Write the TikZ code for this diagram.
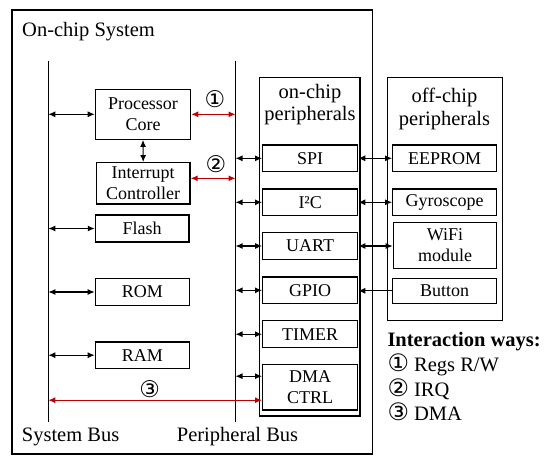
\documentclass[tikz,border=0pt]{standalone}
\usepackage{fontspec}
\setmainfont{Liberation Serif}
\newfontfamily\circfont{DejaVu Sans}
\usetikzlibrary{arrows.meta}
\definecolor{ioRed}{RGB}{192,0,0}
\begin{document}
\begin{tikzpicture}[x=1pt,y=-1pt,
	blk/.style={draw,line width=1.2pt,inner sep=0pt,align=center,font=\fontsize{18}{21}\selectfont},
	frame/.style={draw,line width=1.4pt,inner sep=0pt},
	lbl/.style={inner sep=0pt,align=center,font=\fontsize{20.5}{22.7}\selectfont},
	num/.style={inner sep=0pt,font=\circfont\fontsize{23}{23}\selectfont},
	bus/.style={line width=1.5pt},
	link/.style={{Latex[length=7pt,width=6pt]}-{Latex[length=7pt,width=6pt]},line width=1.1pt},
	way/.style={link,color=ioRed}]
	\useasboundingbox (0,0) rectangle (550,464);
	\node[frame,minimum width=360.7pt,minimum height=444pt] (soc) at (192.35,232) {};
	\node[lbl,anchor=base west] (socl) at (22,36) {On-chip System};
	\node[frame,minimum width=100.7pt,minimum height=338.7pt] (onp) at (309.65,246.65) {};
	\node[lbl] (onpl) at (310,104.7) {on-chip\\peripherals};
	\node[frame,minimum width=114.6pt,minimum height=243.4pt] (offp) at (445,199) {};
	\node[lbl] (offpl) at (444.5,109) {off-chip\\peripherals};
	\coordinate (sb top) at (48.3,60.7);
	\coordinate (sb bot) at (48.3,422.3);
	\coordinate (pb top) at (235.5,60.7);
	\coordinate (pb bot) at (235.5,422.3);
	\draw[bus] (sb top) -- (sb bot);
	\draw[bus] (pb top) -- (pb bot);
	\node[lbl,anchor=base west] (sbl) at (21.7,441.7) {System Bus};
	\node[lbl,anchor=base west] (pbl) at (176.7,441.7) {Peripheral Bus};
	\node[blk,minimum width=95.4pt,minimum height=50pt] (core) at (143,114.3) {Processor\\Core};
	\node[blk,minimum width=93.7pt,minimum height=41.3pt] (intc) at (143.2,183.3) {Interrupt\\Controller};
	\node[blk,minimum width=93.7pt,minimum height=27pt] (flash) at (142.2,228.5) {Flash};
	\node[blk,minimum width=94pt,minimum height=26.6pt] (rom) at (142.3,292) {ROM};
	\node[blk,minimum width=94pt,minimum height=26.3pt] (ram) at (142.3,355.2) {RAM};
	\node[blk,minimum width=95pt,minimum height=26.7pt] (spi) at (310.2,158.3) {SPI};
	\node[blk,minimum width=95pt,minimum height=26.7pt] (i2c) at (310.2,202.3) {I²C};
	\node[blk,minimum width=95pt,minimum height=26.7pt] (uart) at (310.2,246) {UART};
	\node[blk,minimum width=95pt,minimum height=26.7pt] (gpio) at (310.2,290.3) {GPIO};
	\node[blk,minimum width=95pt,minimum height=27pt] (timer) at (310.2,334.2) {TIMER};
	\node[blk,minimum width=95pt,minimum height=45.7pt] (dma) at (310.2,387.2) {DMA\\CTRL};
	\node[blk,minimum width=104pt,minimum height=26.7pt] (eeprom) at (444.7,158.3) {EEPROM};
	\node[blk,minimum width=104pt,minimum height=26.7pt] (gyro) at (444.7,202.3) {Gyroscope};
	\node[blk,minimum width=103.4pt,minimum height=46pt] (wifi) at (445,245.3) {WiFi\\module};
	\node[blk,minimum width=104pt,minimum height=25pt] (button) at (444.7,290.8) {Button};
	\draw[link] (core.west -| sb top) -- (core.west);
	\draw[link] (flash.west -| sb top) -- (flash.west);
	\draw[link] (rom.west -| sb top) -- (rom.west);
	\draw[link] (ram.west -| sb top) -- (ram.west);
	\draw[link] (core.south) -- (intc.north);
	\draw[way] (core.east) -- (core.east -| pb top);
	\draw[way] ([yshift=5pt]intc.east) -- ([yshift=5pt]intc.east -| pb top);
	\draw[way] ([yshift=-13pt]dma.west -| sb top) -- ([yshift=-13pt]dma.west);
	\draw[link] (spi.west -| pb top) -- (spi.west);
	\draw[link] (i2c.west -| pb top) -- (i2c.west);
	\draw[link] (uart.west -| pb top) -- (uart.west);
	\draw[link] (gpio.west -| pb top) -- (gpio.west);
	\draw[link] (timer.west -| pb top) -- (timer.west);
	\draw[link] ([yshift=11pt]dma.west -| pb top) -- ([yshift=11pt]dma.west);
	\draw[link] (spi.east) -- (eeprom.west);
	\draw[link] (i2c.east) -- (gyro.west);
	\draw[link] (uart.east) -- (uart.east -| wifi.west);
	\draw[-{Latex[length=7pt,width=6pt]},line width=1.1pt] (button.west) -- (button.west -| gpio.east);
	\node[num] (n1) at (215,99) {①};
	\node[num] (n2) at (216,164) {②};
	\node[num] (n3) at (149.7,389.3) {③};
	\node[lbl,anchor=base west,font=\bfseries\fontsize{20.5}{22.7}\selectfont] (ways) at (387.3,346.7) {Interaction ways:};
	\node[lbl,anchor=base west] (w1) at (387.3,371.7) {{\circfont\fontsize{24}{24}\selectfont ①} Regs R/W};
	\node[lbl,anchor=base west] (w2) at (387.3,396) {{\circfont\fontsize{24}{24}\selectfont ②} IRQ};
	\node[lbl,anchor=base west] (w3) at (387.3,420.7) {{\circfont\fontsize{24}{24}\selectfont ③} DMA};
\end{tikzpicture}
\end{document}
